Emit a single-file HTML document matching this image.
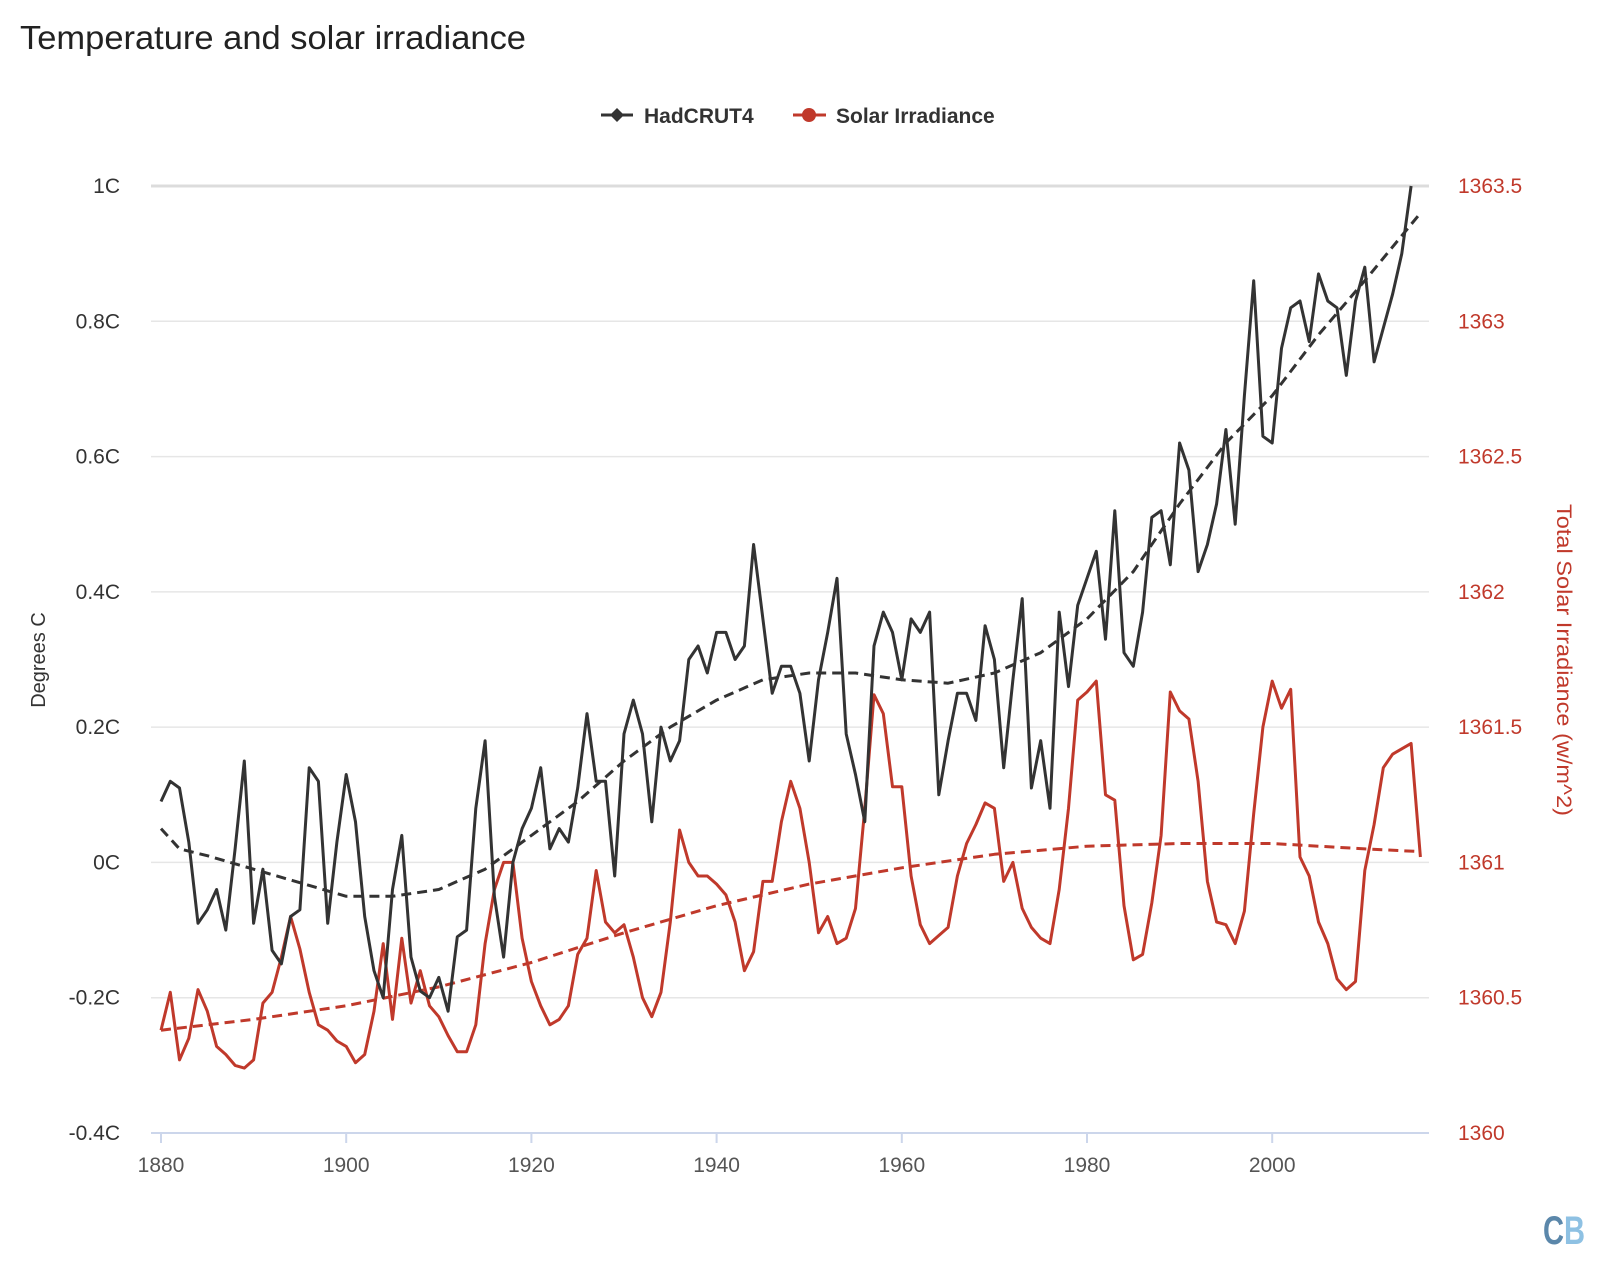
<!DOCTYPE html>
<html><head><meta charset="utf-8"><style>
body{margin:0;background:#fff;width:1610px;height:1270px;overflow:hidden;font-family:"Liberation Sans",sans-serif}
</style></head><body>
<svg id="chart" width="1610" height="1270" xmlns="http://www.w3.org/2000/svg" font-family="Liberation Sans, sans-serif">
<text x="20" y="49" font-size="33" fill="#222" textLength="506" lengthAdjust="spacingAndGlyphs">Temperature and solar irradiance</text>
<g>
<line x1="601" y1="115" x2="633" y2="115" stroke="#333" stroke-width="3"/>
<path d="M617 108 L624 115 L617 122 L610 115 Z" fill="#333"/>
<text x="644" y="123" font-size="21" font-weight="bold" fill="#333">HadCRUT4</text></g>
<g>
<line x1="793" y1="115" x2="826" y2="115" stroke="#c0392b" stroke-width="3"/>
<circle cx="809" cy="115" r="7" fill="#c0392b"/>
<text x="836" y="123" font-size="21" font-weight="bold" fill="#333">Solar Irradiance</text></g>
<g id="grid"></g><g id="axes"></g><g id="series"></g>
<text transform="translate(45,660) rotate(-90)" text-anchor="middle" font-size="20" fill="#333">Degrees C</text>
<text transform="translate(1557,660) rotate(90)" text-anchor="middle" font-size="21" fill="#c0392b" textLength="312" lengthAdjust="spacingAndGlyphs">Total Solar Irradiance (w/m^2)</text>
<g><text x="1543" y="1244" font-size="40" font-weight="bold" fill="#5b87aa" textLength="21" lengthAdjust="spacingAndGlyphs">C</text><text x="1564" y="1244" font-size="40" font-weight="bold" fill="#8ec1e3" textLength="21" lengthAdjust="spacingAndGlyphs">B</text></g>
</svg>
<script>
const tempTicks=[-0.4,-0.2,0,0.2,0.4,0.6,0.8,1];
const tempTickLabels=["-0.4C","-0.2C","0C","0.2C","0.4C","0.6C","0.8C","1C"];
const tsiTickLabels=["1360","1360.5","1361","1361.5","1362","1362.5","1363","1363.5"];
const yearTicks=[1880,1900,1920,1940,1960,1980,2000];
const hadStart=1880;
const hadcrut=[0.09,0.12,0.11,0.03,-0.09,-0.07,-0.04,-0.10,0.02,0.15,-0.09,-0.01,-0.13,-0.15,-0.08,-0.07,0.14,0.12,-0.09,0.03,0.13,0.06,-0.08,-0.16,-0.20,-0.04,0.04,-0.14,-0.19,-0.20,-0.17,-0.22,-0.11,-0.10,0.08,0.18,-0.05,-0.14,0.00,0.05,0.08,0.14,0.02,0.05,0.03,0.11,0.22,0.12,0.12,-0.02,0.19,0.24,0.19,0.06,0.20,0.15,0.18,0.30,0.32,0.28,0.34,0.34,0.30,0.32,0.47,0.36,0.25,0.29,0.29,0.25,0.15,0.27,0.34,0.42,0.19,0.13,0.06,0.32,0.37,0.34,0.27,0.36,0.34,0.37,0.10,0.18,0.25,0.25,0.21,0.35,0.30,0.14,0.27,0.39,0.11,0.18,0.08,0.37,0.26,0.38,0.42,0.46,0.33,0.52,0.31,0.29,0.37,0.51,0.52,0.44,0.62,0.58,0.43,0.47,0.53,0.64,0.50,0.69,0.86,0.63,0.62,0.76,0.82,0.83,0.77,0.87,0.83,0.82,0.72,0.83,0.88,0.74,0.79,0.84,0.90,1.00];
const hadTrendYears=[1880,1882,1885,1890,1895,1900,1905,1910,1915,1920,1925,1930,1935,1940,1945,1950,1955,1960,1965,1970,1975,1980,1985,1990,1995,2000,2005,2010,2016];
const hadTrend=[0.05,0.02,0.01,-0.01,-0.03,-0.05,-0.05,-0.04,-0.01,0.04,0.09,0.15,0.20,0.24,0.27,0.28,0.28,0.27,0.265,0.28,0.31,0.36,0.43,0.53,0.62,0.69,0.78,0.86,0.96];
const tsiStart=1880;
const tsi=[1360.38,1360.52,1360.27,1360.35,1360.53,1360.45,1360.32,1360.29,1360.25,1360.24,1360.27,1360.48,1360.52,1360.65,1360.8,1360.68,1360.52,1360.4,1360.38,1360.34,1360.32,1360.26,1360.29,1360.45,1360.7,1360.42,1360.72,1360.48,1360.6,1360.47,1360.43,1360.36,1360.3,1360.3,1360.4,1360.7,1360.9,1361.0,1361.0,1360.72,1360.56,1360.47,1360.4,1360.42,1360.47,1360.66,1360.72,1360.97,1360.78,1360.74,1360.77,1360.65,1360.5,1360.43,1360.52,1360.78,1361.12,1361.0,1360.95,1360.95,1360.92,1360.88,1360.78,1360.6,1360.67,1360.93,1360.93,1361.15,1361.3,1361.2,1361.0,1360.74,1360.8,1360.7,1360.72,1360.83,1361.2,1361.62,1361.55,1361.28,1361.28,1360.95,1360.77,1360.7,1360.73,1360.76,1360.95,1361.07,1361.14,1361.22,1361.2,1360.93,1361.0,1360.83,1360.76,1360.72,1360.7,1360.9,1361.2,1361.6,1361.63,1361.67,1361.25,1361.23,1360.84,1360.64,1360.66,1360.85,1361.1,1361.63,1361.56,1361.53,1361.3,1360.93,1360.78,1360.77,1360.7,1360.82,1361.18,1361.5,1361.67,1361.57,1361.64,1361.02,1360.95,1360.78,1360.7,1360.57,1360.53,1360.56,1360.97,1361.14,1361.35,1361.4,1361.42,1361.44,1361.02];
const tsiTrendYears=[1880,1890,1900,1910,1920,1930,1940,1950,1960,1970,1980,1990,2000,2010,2016];
const tsiTrend=[1360.38,1360.42,1360.47,1360.54,1360.63,1360.74,1360.84,1360.92,1360.98,1361.03,1361.06,1361.07,1361.07,1361.05,1361.04];

const NS='http://www.w3.org/2000/svg';
const X0=151,X1=1429,YT=186,YB=1133;
const xS=y=>161+(y-1880)*9.26;
const yL=v=>YB-(v+0.4)/1.4*(YB-YT);
const yR=v=>YB-(v-1360)/3.5*(YB-YT);
function mk(tag,attrs,parent){const e=document.createElementNS(NS,tag);for(const k in attrs)e.setAttribute(k,attrs[k]);parent.appendChild(e);return e;}
const grid=document.getElementById('grid'),axes=document.getElementById('axes'),ser=document.getElementById('series');
tempTicks.forEach((t,i)=>{
  const y=yL(t);
  if(i>0){const g=mk('line',{x1:X0,x2:X1,y1:y,y2:y,stroke:i==tempTicks.length-1?'#dcdcdc':'#e6e6e6','stroke-width':i==tempTicks.length-1?3:1.5},grid);
  
  }
  const l=mk('text',{x:120,y:y+7,'text-anchor':'end','font-size':21,fill:'#333'},axes);l.textContent=tempTickLabels[i];
  
  
  const r=mk('text',{x:1458,y:y+7,'font-size':21,fill:'#c0392b'},axes);r.textContent=tsiTickLabels[i];
  
  
});
const ax=mk('line',{x1:X0,x2:X1,y1:YB,y2:YB,stroke:'#ccd6eb','stroke-width':2},axes);


yearTicks.forEach(yr=>{
  const x=xS(yr);
  mk('line',{x1:x,x2:x,y1:YB,y2:YB+10,stroke:'#ccd6eb','stroke-width':2},axes);
  const t=mk('text',{x:x,y:1172,'text-anchor':'middle','font-size':21,fill:'#555'},axes);t.textContent=yr;
  
  
});
function path(xs,ys,fy,color,dash,w,name){
  const d=xs.map((x,i)=>(i?'L':'M')+xS(x).toFixed(1)+' '+fy(ys[i]).toFixed(1)).join(' ');
  const p=mk('path',{d:d,fill:'none',stroke:color,'stroke-width':w,'stroke-linejoin':'round'},ser);
  if(dash)p.setAttribute('stroke-dasharray',dash);
  
  
}
path(tsiTrendYears,tsiTrend,yR,'#c0392b','10 6',3,'solar-trend-line');
path(tsi.map((_,i)=>tsiStart+i),tsi,yR,'#c0392b',null,3,'solar-irradiance-line');
path(hadTrendYears,hadTrend,yL,'#333','10 6',3,'hadcrut4-trend-line');
path(hadcrut.map((_,i)=>hadStart+i),hadcrut,yL,'#333',null,3,'hadcrut4-line');
</script>
</body></html>
